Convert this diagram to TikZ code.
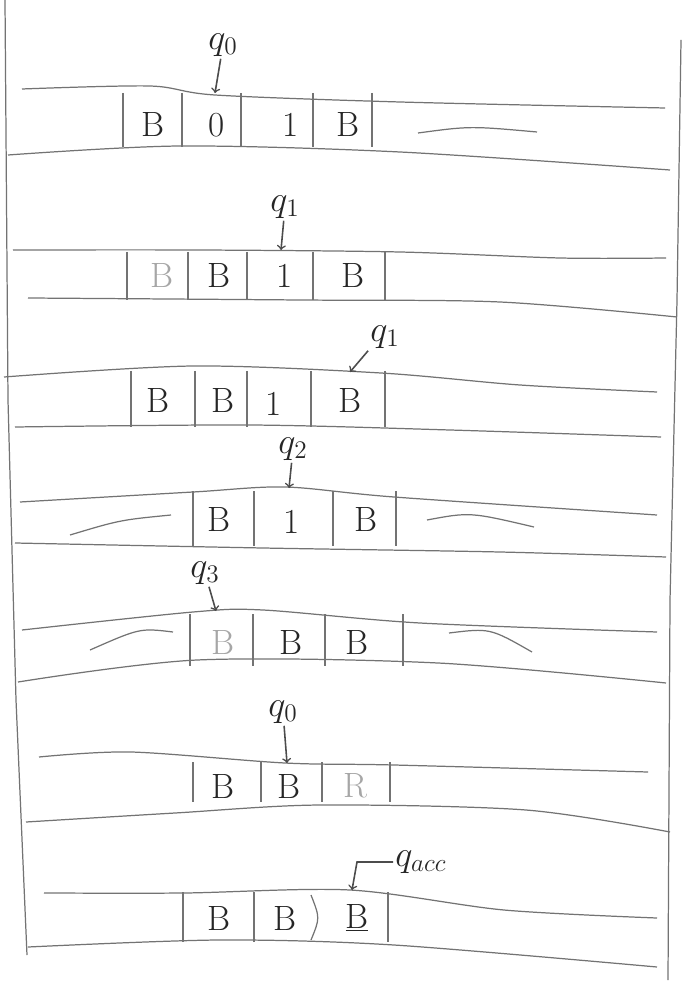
\documentclass[tikz,border=0pt]{standalone}
\usetikzlibrary{calc}
\begin{document}
\begin{tikzpicture}[x=0.02cm,y=-0.02cm,line width=0.7pt,
  pen/.style={draw=black!55},
  sym/.style={font=\fontsize{20}{22}\selectfont,text=black!85,inner sep=0pt},
  faint/.style={sym,text=black!35},
  state/.style={font=\fontsize{22}{24}\selectfont,text=black!85,inner sep=1pt},
  head/.style={->,draw=black!70,line width=0.9pt}]
\useasboundingbox (0,0) rectangle (687,982);

% frame
\draw[pen] (5,0) -- (8,400) -- (16,700) -- (27,955);
\draw[pen] (681,40) -- (677,300) -- (670,600) -- (668,980);

% tape 1
\draw[pen] plot[smooth] coordinates {(22,89) (150,86) (215,95) (400,102) (665,108)};
\draw[pen] plot[smooth] coordinates {(8,155) (180,146) (400,152) (670,170)};
\foreach \x in {123,182,241,313,372} \draw[pen] (\x,93) -- (\x,147);
\node[sym] (a1) at (153,125) {B};
\node[sym] (a2) at (217,125) {0};
\node[sym] (a3) at (291,125) {1};
\node[sym] (a4) at (348,125) {B};
\draw[pen] (418,133) .. controls (470,126) .. (537,132);
\node[state] (q1) at (223,45) {$q_0$};
\coordinate (h1) at (215,93);
\draw[head] (q1) -- (h1);

% tape 2
\draw[pen] plot[smooth] coordinates {(13,250) (200,250) (400,252) (560,258) (666,258)};
\draw[pen] plot[smooth] coordinates {(28,298) (300,300) (500,302) (677,317)};
\foreach \x in {127,188,247,313,385} \draw[pen] (\x,252) -- (\x,300);
\node[faint] (b1) at (162,276) {B};
\node[sym] (b2) at (219,276) {B};
\node[sym] (b3) at (285,276) {1};
\node[sym] (b4) at (353,276) {B};
\node[state] (q2) at (285,207) {$q_1$};
\coordinate (h2) at (281,250);
\draw[head] (q2) -- (h2);

% tape 3
\draw[pen] plot[smooth] coordinates {(4,377) (193,366) (381,373) (520,385) (657,392)};
\draw[pen] plot[smooth] coordinates {(15,427) (250,425) (450,430) (661,437)};
\foreach \x in {131,195,247,311,385} \draw[pen] (\x,371) -- (\x,427);
\node[sym] (c1) at (158,401) {B};
\node[sym] (c2) at (223,401) {B};
\node[sym] (c3) at (274,404) {1};
\node[sym] (c4) at (350,401) {B};
\node[state] (q3) at (385,337) {$q_1$};
\coordinate (h3) at (350,372);
\draw[head] (q3.south west) -- (h3);

% tape 4
\draw[pen] plot[smooth] coordinates {(20,502) (193,492) (285,487) (394,497) (657,515)};
\draw[pen] plot[smooth] coordinates {(15,543) (263,548) (500,552) (666,557)};
\foreach \x in {193,254,333,396} \draw[pen] (\x,491) -- (\x,546);
\node[sym] (d1) at (219,519) {B};
\node[sym] (d2) at (292,522) {1};
\node[sym] (d3) at (366,519) {B};
\draw[pen] (70,535) .. controls (120,520) .. (171,515);
\draw[pen] (427,520) .. controls (470,512) .. (534,527);
\node[state] (q4) at (293,449) {$q_2$};
\coordinate (h4) at (289,488);
\draw[head] (q4) -- (h4);

% tape 5
\draw[pen] plot[smooth] coordinates {(22,630) (193,612) (263,610) (420,623) (657,632)};
\draw[pen] plot[smooth] coordinates {(18,682) (197,660) (438,663) (666,683)};
\foreach \x in {190,253,325,403} \draw[pen] (\x,614) -- (\x,666);
\node[faint] (e1) at (223,642) {B};
\node[sym] (e2) at (291,642) {B};
\node[sym] (e3) at (357,642) {B};
\draw[pen] (90,650) .. controls (140,628) .. (173,632);
\draw[pen] (449,633) .. controls (490,628) .. (532,652);
\node[state] (q5) at (205,573) {$q_3$};
\coordinate (h5) at (216,611);
\draw[head] (q5) -- (h5);

% tape 6
\draw[pen] plot[smooth] coordinates {(39,757) (131,752) (285,763) (394,765) (648,772)};
\draw[pen] plot[smooth] coordinates {(26,822) (175,813) (320,805) (526,810) (670,832)};
\foreach \x in {193,261,322,390} \draw[pen] (\x,762) -- (\x,802);
\node[sym] (f1) at (223,786) {B};
\node[sym] (f2) at (289,786) {B};
\node[faint] (f3) at (355,786) {R};
\node[state] (q6) at (283,712) {$q_0$};
\coordinate (h6) at (287,763);
\draw[head] (q6) -- (h6);

% tape 7
\draw[pen] plot[smooth] coordinates {(44,893) (184,893) (350,890) (504,910) (657,918)};
\draw[pen] plot[smooth] coordinates {(28,947) (219,940) (394,945) (657,967)};
\foreach \x in {183,254,388} \draw[pen] (\x,892) -- (\x,942);
\draw[pen] (311,895) .. controls (320,918) .. (311,940);
\node[sym] (g1) at (219,918) {B};
\node[sym] (g2) at (285,918) {B};
\node[sym] (g3) at (357,918) {\underline{B}};
\node[state,anchor=west] (q7) at (393,862) {$q_{acc}$};
\coordinate (h7) at (352,890);
\draw[head] (q7.west) -- ++(-36,0) -- (h7);
\end{tikzpicture}
\end{document}
